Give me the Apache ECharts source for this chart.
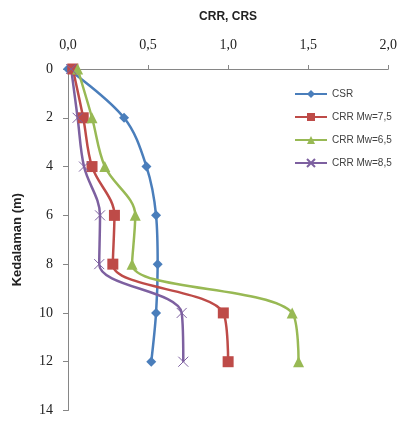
<!DOCTYPE html>
<html>
<head>
<meta charset="utf-8">
<script src="https://cdn.jsdelivr.net/npm/echarts@6/dist/echarts.min.js"></script>
<style>html,body{margin:0;padding:0;background:#fff}#c{width:400px;height:421px}</style>
</head>
<body>
<div id="c"></div>
<script>
var depths = [0, 2, 4, 6, 8, 10, 12];
var csr = [0, 0.35, 0.49, 0.55, 0.56, 0.55, 0.52];
var crr75 = [0.03, 0.095, 0.15, 0.29, 0.28, 0.97, 1.0];
var crr65 = [0.06, 0.15, 0.23, 0.42, 0.40, 1.40, 1.44];
var crr85 = [0.02, 0.06, 0.10, 0.20, 0.195, 0.71, 0.72];
var seriesNames = ['CSR', 'CRR Mw=7,5', 'CRR Mw=6,5', 'CRR Mw=8,5'];

function pairs(vals) { return vals.map(function (v, i) { return [v, depths[i]]; }); }
var colors = ['#4A7EBB', '#BE4B48', '#98B954', '#7D60A0'];
var symbols = ['diamond', 'rect', 'triangle', 'path://M0,0L10,10M10,0L0,10'];
var sizes = [10, 11, 11, 10];
var allVals = [csr, crr75, crr65, crr85];

var chart = echarts.init(document.getElementById('c'));
chart.setOption({
  animation: false,
  color: colors,
  grid: { left: 68, top: 69, right: 11, bottom: 10.5, containLabel: false },
  legend: {
    orient: 'vertical', left: 294, top: 89, padding: 0, itemWidth: 32, itemHeight: 10, itemGap: 13,
    textStyle: { fontFamily: 'Liberation Sans', fontSize: 10, color: '#404040' },
    data: seriesNames
  },
  xAxis: {
    type: 'value', position: 'top', min: 0, max: 2, interval: 0.5,
    name: 'CRR, CRS', nameLocation: 'middle', nameGap: 46,
    nameTextStyle: { fontFamily: 'Liberation Sans', fontWeight: 'bold', fontSize: 12, color: '#222' },
    axisLine: { show: true, lineStyle: { color: '#868686' } },
    axisTick: { show: true, length: 4, lineStyle: { color: '#868686' } },
    splitLine: { show: false },
    axisLabel: { margin: 17, fontFamily: 'Liberation Serif', fontSize: 14, color: '#222',
      formatter: function (v) { return v.toFixed(1).replace('.', ','); } }
  },
  yAxis: {
    type: 'value', inverse: true, min: 0, max: 14, interval: 2,
    name: 'Kedalaman (m)', nameLocation: 'middle', nameGap: 44, nameRotate: 90,
    nameTextStyle: { fontFamily: 'Liberation Sans', fontWeight: 'bold', fontSize: 13, color: '#222' },
    axisLine: { show: true, lineStyle: { color: '#868686' } },
    axisTick: { show: true, length: 5, lineStyle: { color: '#868686' } },
    splitLine: { show: false },
    axisLabel: { margin: 15, fontFamily: 'Liberation Serif', fontSize: 14, color: '#222' }
  },
  series: seriesNames.map(function (n, i) {
    return {
      name: n, type: 'line', smooth: 0.35, data: pairs(allVals[i]),
      symbol: symbols[i], symbolSize: sizes[i],
      lineStyle: { width: 2.5, color: colors[i] },
      itemStyle: i === 3 ? { color: colors[i], borderColor: colors[i], borderWidth: 1 } : { color: colors[i] }
    };
  })
});
</script>
</body>
</html>
